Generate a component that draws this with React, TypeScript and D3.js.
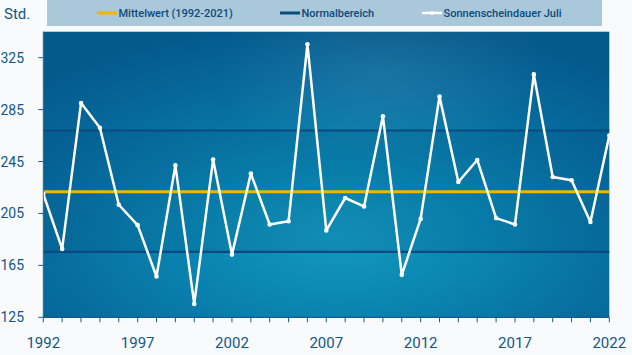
import React from "react";
import * as d3 from "d3";

const years: number[] = d3.range(1992, 2023);
const sunshine: number[] = [
  220, 177.7, 290, 271, 211.7, 196, 156.4, 242, 135.3, 246.5,
  173.3, 235.7, 196.5, 199, 335.3, 191.9, 216.9, 210.4, 279.9, 157.7,
  200.8, 295.1, 229.2, 246.2, 201.4, 196.5, 312.1, 233.1, 230.5, 198.4,
  265,
];
const meanValue = 221.8;
const normalLow = 175.4;
const normalHigh = 268.9;
const yTicks: number[] = [125, 165, 205, 245, 285, 325];
const xTickLabels: number[] = [1992, 1997, 2002, 2007, 2012, 2017, 2022];
const legendLabels: string[] = ["Mittelwert (1992-2021)", "Normalbereich", "Sonnenscheindauer Juli"];

const W = 632;
const H = 355;
const left = 43.3;
const right = 609.3;
const top = 31.7;
const bottom = 317.3;

export default function App() {
  const x = d3.scaleLinear().domain([1992, 2022]).range([left, right]);
  const y = d3.scaleLinear().domain([125, 345]).range([bottom, top]);
  const line = d3
    .line<number>()
    .x((_, i) => x(years[i]))
    .y((d) => y(d));
  const font = "Roboto, 'Open Sans', sans-serif";
  const textColor = "#11568a";
  const legendColor = "#0d4a7c";

  return (
    <svg
      width={W}
      height={H}
      style={{ position: "absolute", left: 0, top: 0, background: "#f9fafb" }}
      fontFamily={font}
    >
      <defs>
        <radialGradient id="bg" cx="0.52" cy="0.72" r="0.75" fx="0.52" fy="0.72">
          <stop offset="0" stopColor="#1399bf" />
          <stop offset="0.35" stopColor="#0a84b0" />
          <stop offset="0.75" stopColor="#06689b" />
          <stop offset="1" stopColor="#055a8c" />
        </radialGradient>
        <radialGradient id="glow" cx="0.6" cy="0.15" r="0.3">
          <stop offset="0" stopColor="#ffffff" stopOpacity="0.08" />
          <stop offset="1" stopColor="#ffffff" stopOpacity="0" />
        </radialGradient>
      </defs>

      {/* legend */}
      <rect x={47} y={0} width={555} height={26} fill="#a9c8da" />
      <g fontSize={11} fill={legendColor} fontWeight={500}>
        <line x1={97} x2={117} y1={13} y2={13} stroke="#f5b400" strokeWidth={3} />
        <text x={118.5} y={13} dominantBaseline="central">{legendLabels[0]}</text>
        <line x1={280} x2={300} y1={13} y2={13} stroke="#0a4c80" strokeWidth={3} />
        <text x={301.5} y={13} dominantBaseline="central">{legendLabels[1]}</text>
        <line x1={422} x2={442} y1={13} y2={13} stroke="#ffffff" strokeWidth={2.5} />
        <circle cx={432} cy={13} r={2} fill="#ffffff" />
        <text x={443.5} y={13} dominantBaseline="central">{legendLabels[2]}</text>
      </g>
      <text x={4} y={14} fontSize={15} fill={textColor} dominantBaseline="central">Std.</text>

      {/* plot background */}
      <rect x={left} y={top} width={right - left} height={bottom - top} fill="url(#bg)" />
      <rect x={left} y={top} width={right - left} height={bottom - top} fill="url(#glow)" />
      <rect
        x={left}
        y={y(normalHigh)}
        width={right - left}
        height={y(normalLow) - y(normalHigh)}
        fill="#00305e"
        opacity={0.1}
      />

      {/* normal range lines */}
      {[normalLow, normalHigh].map((v) => (
        <line key={v} x1={left} x2={right} y1={y(v)} y2={y(v)} stroke="#0a4a7e" strokeWidth={2.2} />
      ))}
      {/* mean line */}
      <line x1={left} x2={right} y1={y(meanValue)} y2={y(meanValue)} stroke="#f5b400" strokeWidth={3} />

      {/* data */}
      <path d={line(sunshine) || ""} fill="none" stroke="#ffffff" strokeWidth={2.5} strokeLinejoin="round" />
      {sunshine.map((v, i) => (
        <circle key={i} cx={x(years[i])} cy={y(v)} r={2.3} fill="#ffffff" />
      ))}

      {/* y axis */}
      <line x1={left} x2={left} y1={top} y2={bottom} stroke="#2a6a98" strokeWidth={1} />
      {yTicks.map((t) => (
        <g key={t}>
          <line x1={left - 5} x2={left} y1={y(t)} y2={y(t)} stroke="#1a5a8a" strokeWidth={1} />
          <text x={24} y={y(t)} textAnchor="end" dominantBaseline="central" fontSize={14} fill={textColor}>
            {t}
          </text>
        </g>
      ))}

      {/* x axis */}
      <line x1={left} x2={right} y1={bottom} y2={bottom} stroke="#1a5a8a" strokeWidth={1.2} />
      {years.map((yr) => (
        <line key={yr} x1={x(yr)} x2={x(yr)} y1={bottom} y2={bottom + 5} stroke="#1a5a8a" strokeWidth={1} />
      ))}
      {xTickLabels.map((yr) => (
        <text key={yr} x={x(yr)} y={343} textAnchor="middle" dominantBaseline="central" fontSize={15} fill={textColor}>
          {yr}
        </text>
      ))}
    </svg>
  );
}
